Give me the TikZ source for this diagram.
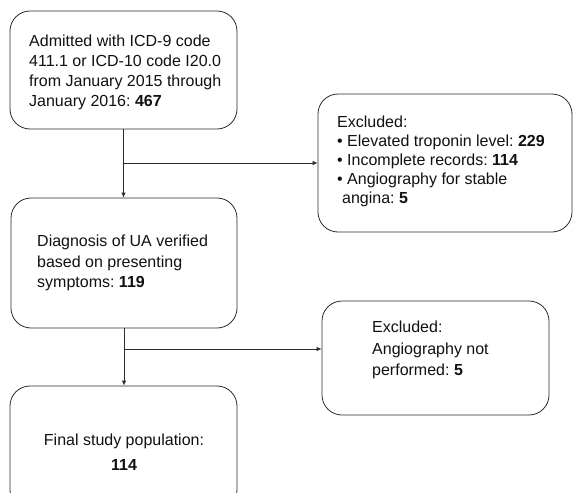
\documentclass[tikz,border=0pt]{standalone}
\usepackage{fontspec}
\setmainfont{Liberation Sans}
\usetikzlibrary{arrows.meta,calc}
\definecolor{linec}{HTML}{2B2B2B}
\definecolor{textc}{HTML}{111111}
\frenchspacing
\begin{document}
\begin{tikzpicture}[x=1pt,y=-1pt,
  box/.style={draw=linec, line width=0.8pt, rounded corners=20pt, inner sep=0pt},
  txt/.style={text=textc, inner sep=0pt, align=left, anchor=west},
  conn/.style={draw=linec, line width=0.8pt},
  arr/.style={conn, -{Latex[length=5pt,width=4.5pt]}}]
\useasboundingbox (0,0) rectangle (574,493);
\clip (0,0) rectangle (574,493);
\fill[white] (0,0) rectangle (574,493);
% boxes
\node[box, minimum width=227pt, minimum height=118pt] (b1) at (123.5,70) {};
\node[box, minimum width=254pt, minimum height=138pt] (b2) at (445,163) {};
\node[box, minimum width=226pt, minimum height=130pt] (b3) at (124,263) {};
\node[box, minimum width=227pt, minimum height=114pt] (b4) at (435.5,358) {};
\node[box, minimum width=227pt, minimum height=124pt] (b5) at (123.5,448) {};
% texts
\node[txt, font=\fontsize{16}{20}\selectfont] (t1) at (29,72)
  {Admitted with ICD-9 code\\411.1 or ICD-10 code I20.0\\from January 2015 through\\January 2016: \textbf{467}};
\node[txt, font=\fontsize{16}{19}\selectfont] (t2) at (337,161)
  {Excluded:\\• Elevated troponin level: \textbf{229}\\• Incomplete records: \textbf{114}\\• Angiography for stable\\\hspace*{5pt}angina: \textbf{5}};
\node[txt, font=\fontsize{16}{20.5}\selectfont] (t3) at (37,263)
  {Diagnosis of UA verified\\based on presenting\\symptoms: \textbf{119}};
\node[txt, font=\fontsize{16}{21.5}\selectfont] (t4) at (372,350)
  {Excluded:\\Angiography not\\performed: \textbf{5}};
\node[txt, align=center, anchor=center, font=\fontsize{16}{25}\selectfont] (t5) at (124,452)
  {Final study population:\\\textbf{114}};
% connectors
\coordinate (j1) at (b1.south |- b2.west);
\coordinate (j2) at ($(b3.south)!0.36!(b5.north)$);
\draw[arr] (b1.south) -- (b1.south |- b3.north);
\draw[arr] (j1) -- (b2.west);
\draw[arr] (b3.south) -- (b3.south |- b5.north);
\draw[arr] (j2) -- (j2 -| b4.west);
\end{tikzpicture}
\end{document}
